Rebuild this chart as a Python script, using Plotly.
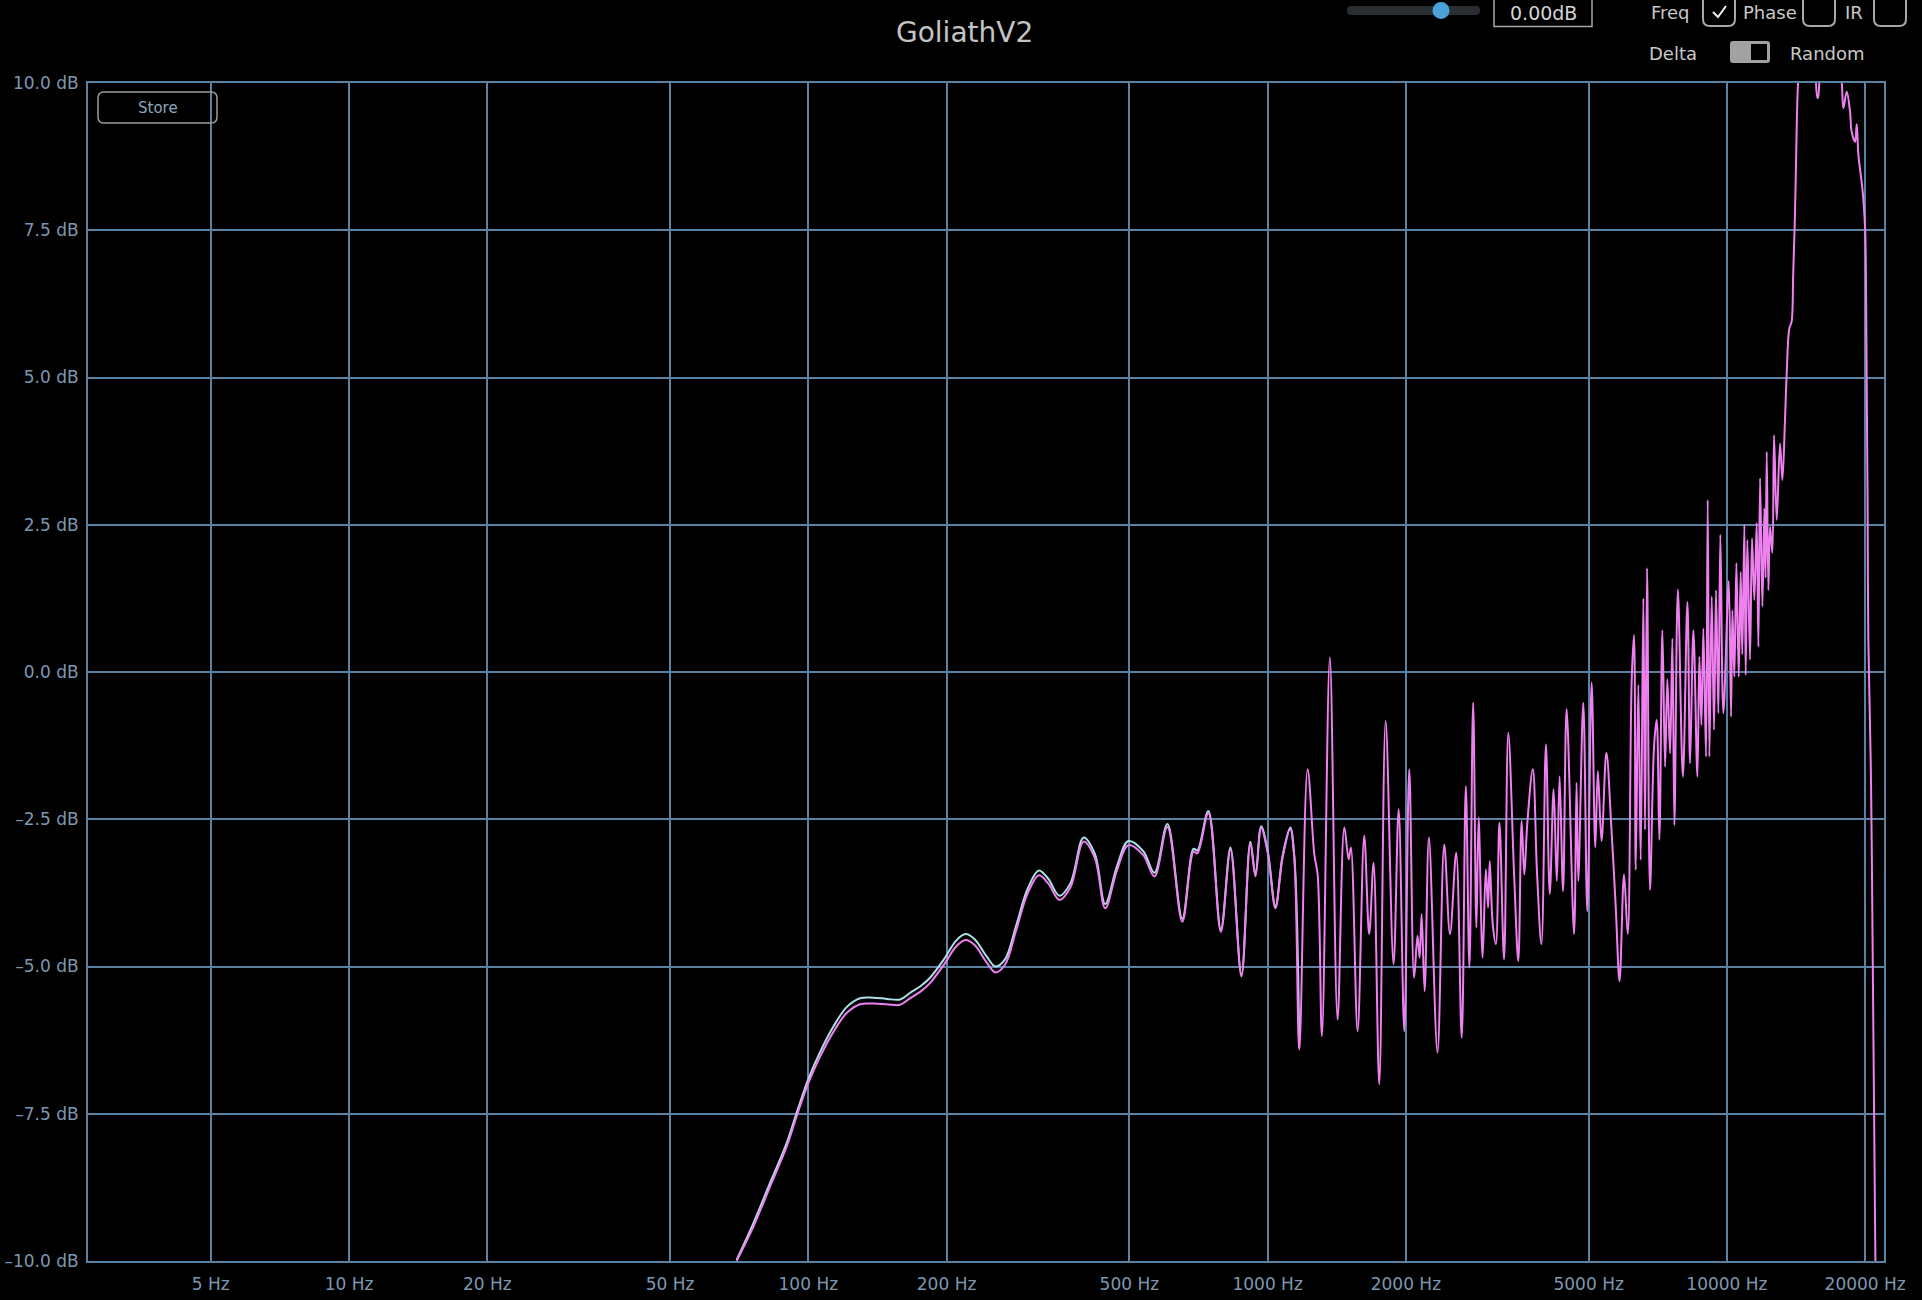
import plotly.graph_objects as go

# ---------------- data ----------------
freq_hz = [
    69.8, 75.9, 82.5, 89.7, 94.8, 100, 106.1, 113.4, 121.2, 129.6,
    138.5, 148.2, 158.4, 166.4, 175.1, 183.6, 198.1, 209.8, 220, 230.5,
    244, 255.6, 268, 283.6, 300.3, 317.6, 332.9, 352.3, 372.4, 397.6,
    420.6, 443, 470.2, 497.5, 536, 567, 605, 652, 690, 703,
    743, 791, 830, 877, 917, 941, 968, 1001, 1040, 1078,
    1120, 1143, 1172, 1222, 1264, 1285, 1313, 1366, 1420, 1469,
    1501, 1518, 1570, 1623, 1664, 1701, 1750, 1807, 1880, 1929,
    1984, 2034, 2084, 2120, 2143, 2164, 2197, 2245, 2343, 2424,
    2495, 2574, 2646, 2701, 2750, 2802, 2848, 2880, 2938, 2986,
    3020, 3045, 3091, 3140, 3197, 3272, 3342, 3443, 3514, 3573,
    3621, 3677, 3779, 3858, 3946, 4036, 4114, 4195, 4262, 4322,
    4398, 4477, 4647, 4705, 4747, 4867, 4966, 5075, 5169, 5236,
    5334, 5465, 5600, 5728, 5837, 5970, 6083, 6204, 6277, 6330,
    6415, 6490, 6578, 6633, 6700, 6800, 6939, 7032, 7127, 7236,
    7334, 7419, 7520, 7608, 7685, 7820, 8020, 8203, 8313, 8453,
    8624, 8710, 8800, 8886, 9005, 9082, 9158, 9266, 9374, 9468,
    9580, 9676, 9823, 10090, 10209, 10278, 10380, 10486, 10610, 10715,
    10800, 10914, 10987, 11079, 11228, 11341, 11475, 11610, 11709, 11808,
    11947, 12066, 12140, 12208, 12310, 12414, 12558, 12664, 12835, 13051,
    13205, 13383, 13490, 13670, 13830, 13940, 14060, 14170, 14290, 14600,
    15200, 15760, 16300, 17100, 17780, 17930, 18230, 18540, 18690, 19010,
    19170, 19330, 19660, 19830, 20000, 20100, 20170, 20240, 20320, 20560,
    20680, 21050, 21080,
]

response_db = [
    -10.0, -9.42, -8.74, -8.06, -7.49, -6.98, -6.53, -6.11, -5.79, -5.64,
    -5.63, -5.64, -5.65, -5.54, -5.43, -5.29, -4.95, -4.66, -4.55, -4.64,
    -4.92, -5.10, -4.97, -4.38, -3.76, -3.45, -3.59, -3.87, -3.65, -2.88,
    -3.16, -4.01, -3.36, -2.94, -3.11, -3.47, -2.63, -4.24, -3.05, -3.08,
    -2.40, -4.41, -3.02, -5.17, -2.91, -3.47, -2.65, -3.08, -4.01, -3.15,
    -2.67, -3.15, -6.41, -1.65, -3.10, -3.44, -6.18, 0.25, -5.90, -2.64,
    -3.18, -2.98, -6.10, -2.78, -4.45, -3.24, -7.00, -0.83, -4.96, -2.33,
    -6.10, -1.65, -5.19, -4.48, -4.85, -4.11, -5.42, -2.81, -6.46, -2.93,
    -4.45, -3.07, -6.21, -1.94, -5.02, -0.52, -4.34, -2.47, -4.85, -3.35,
    -4.00, -3.21, -4.28, -4.62, -2.56, -4.88, -1.03, -3.49, -4.91, -2.53,
    -3.44, -2.56, -1.65, -3.38, -4.62, -1.23, -3.77, -1.99, -3.55, -1.77,
    -3.72, -0.63, -4.45, -1.88, -3.55, -0.52, -4.06, -0.18, -2.98, -1.68,
    -2.87, -1.37, -2.61, -4.00, -5.25, -3.44, -4.45, -0.14, 0.63, -3.36,
    -0.22, -3.19, 1.25, -2.68, 1.76, -3.70, -1.27, -0.81, -2.85, 0.71,
    -1.61, -0.12, -1.38, 0.57, -2.60, 1.40, -1.78, 1.19, -1.55, 0.71,
    -1.78, 0.26, -0.90, 0.74, -1.44, 2.92, -1.44, 1.28, -0.98, 1.39,
    -0.70, 2.33, -0.70, 1.54, -0.76, 1.05, -0.08, 1.85, -0.08, 1.70,
    0.30, 2.50, -0.05, 2.24, 0.21, 2.27, 1.22, 2.53, 0.43, 3.29,
    1.11, 2.78, 1.60, 3.74, 1.39, 2.47, 2.02, 4.02, 2.58, 3.88,
    3.26, 4.31, 5.04, 5.83, 5.95, 6.74, 7.70, 9.00, 10.02, 10.8,
    11.0, 9.74, 10.9, 11.1, 10.02, 9.57, 9.85, 9.51, 9.17, 9.00,
    9.30, 8.78, 8.30, 8.00, 7.50, 6.20, 4.48, 3.00, 0.53, -1.50,
    -3.16, -10.0, -10.3,
]

# stored (light blue) curve, on the first frequencies of freq_hz
stored_db = [
    -9.98, -9.36, -8.68, -8.00, -7.43, -6.91, -6.45, -6.02, -5.69, -5.54,
    -5.53, -5.55, -5.56, -5.45, -5.34, -5.20, -4.86, -4.56, -4.45, -4.54,
    -4.82, -5.00, -4.88, -4.30, -3.68, -3.37, -3.51, -3.80, -3.58, -2.81,
    -3.09, -3.94, -3.29, -2.87, -3.04, -3.41, -2.58, -4.19, -3.00, -3.03,
    -2.36, -4.37, -2.98, -5.14, -2.88, -3.44, -2.62, -3.05, -3.98, -3.12,
    -2.64, -3.12, -6.38,
]

x_tick_hz = [5, 10, 20, 50, 100, 200, 500, 1000, 2000, 5000, 10000, 20000]
x_tick_text = ["5 Hz", "10 Hz", "20 Hz", "50 Hz", "100 Hz", "200 Hz", "500 Hz",
               "1000 Hz", "2000 Hz", "5000 Hz", "10000 Hz", "20000 Hz"]
y_tick_db = [-10, -7.5, -5, -2.5, 0, 2.5, 5, 7.5, 10]
y_tick_text = ["\u201310.0 dB", "\u20137.5 dB", "\u20135.0 dB", "\u20132.5 dB", "0.0 dB",
               "2.5 dB", "5.0 dB", "7.5 dB", "10.0 dB"]

title_text = "GoliathV2"

# ---------------- layout geometry ----------------
W, H = 1922, 1300
ML, MR, MT, MB = 88, 38, 83, 39
PW, PH = W - ML - MR, H - MT - MB

GRID = "#5a82a3"
TICK = "#7e97b0"
PINK = "#ef80ef"
CYAN = "#aee0e8"
TEXT = "#c8c8c8"
FONT = "DejaVu Sans"


def pxx(x):
    return (x - ML) / PW


def pxy(y):
    return (H - MB - y) / PH


def rrect_path(x0, y0, x1, y1, r):
    def p(x, y):
        return f"{pxx(x):.6f},{pxy(y):.6f}"
    pts = [
        "M" + p(x0 + r, y0),
        "L" + p(x1 - r, y0),
        "Q" + p(x1, y0) + " " + p(x1, y0 + r),
        "L" + p(x1, y1 - r),
        "Q" + p(x1, y1) + " " + p(x1 - r, y1),
        "L" + p(x0 + r, y1),
        "Q" + p(x0, y1) + " " + p(x0, y1 - r),
        "L" + p(x0, y0 + r),
        "Q" + p(x0, y0) + " " + p(x0 + r, y0),
        "Z",
    ]
    return " ".join(pts)


fig = go.Figure()

fig.add_trace(go.Scatter(
    x=freq_hz[:len(stored_db)], y=stored_db, mode="lines",
    line=dict(color=CYAN, width=2, shape="spline", smoothing=1.0),
    hoverinfo="skip", showlegend=False,
))
fig.add_trace(go.Scatter(
    x=freq_hz, y=response_db, mode="lines",
    line=dict(color=PINK, width=2, shape="spline", smoothing=1.0),
    hoverinfo="skip", showlegend=False,
))

shapes = []
annotations = []

# Store button
shapes.append(dict(type="path", xref="paper", yref="paper",
                   path=rrect_path(98, 92, 217, 123, 6),
                   line=dict(color="#9c9c9c", width=1.5), layer="above"))
annotations.append(dict(text="Store", x=pxx(157.5), y=pxy(108), xref="paper", yref="paper",
                        showarrow=False, xanchor="center", yanchor="middle",
                        font=dict(family=FONT, size=15, color="#8fa6be")))

# title
annotations.append(dict(text=title_text, x=pxx(964), y=pxy(33), xref="paper", yref="paper",
                        showarrow=False, xanchor="center", yanchor="middle",
                        font=dict(family=FONT, size=28, color="#c4c4c4")))

# slider
shapes.append(dict(type="path", xref="paper", yref="paper",
                   path=rrect_path(1347, 6, 1480, 15, 4.5),
                   fillcolor="#2a2e33", line=dict(width=0), layer="above"))
shapes.append(dict(type="circle", xref="paper", yref="paper",
                   x0=pxx(1432.5), x1=pxx(1449.5), y0=pxy(19), y1=pxy(2),
                   fillcolor="#4aa2d6", line=dict(width=0), layer="above"))
# value box
shapes.append(dict(type="rect", xref="paper", yref="paper",
                   x0=pxx(1494), x1=pxx(1592), y0=pxy(26.5), y1=pxy(-2),
                   line=dict(color="#a8a8a8", width=1.5), layer="above"))
annotations.append(dict(text="0.00dB", x=pxx(1543), y=pxy(12.5), xref="paper", yref="paper",
                        showarrow=False, xanchor="center", yanchor="middle",
                        font=dict(family=FONT, size=19, color="#d4d4d4")))

# checkbox row
for label, cx in [("Freq", 1670), ("Phase", 1770), ("IR", 1854)]:
    annotations.append(dict(text=label, x=pxx(cx), y=pxy(12), xref="paper", yref="paper",
                            showarrow=False, xanchor="center", yanchor="middle",
                            font=dict(family=FONT, size=18, color=TEXT)))
for x0 in [1703, 1803, 1874]:
    shapes.append(dict(type="path", xref="paper", yref="paper",
                       path=rrect_path(x0, -6, x0 + 32, 26, 7),
                       line=dict(color="#a8a8a8", width=2), layer="above"))
# check mark
shapes.append(dict(type="path", xref="paper", yref="paper",
                   path=f"M{pxx(1713):.6f},{pxy(12):.6f} L{pxx(1718):.6f},{pxy(17):.6f} L{pxx(1726):.6f},{pxy(6):.6f}",
                   line=dict(color="#f0f0f0", width=2), layer="above"))

# second row
annotations.append(dict(text="Delta", x=pxx(1673), y=pxy(53), xref="paper", yref="paper",
                        showarrow=False, xanchor="center", yanchor="middle",
                        font=dict(family=FONT, size=18, color=TEXT)))
annotations.append(dict(text="Random", x=pxx(1827), y=pxy(53), xref="paper", yref="paper",
                        showarrow=False, xanchor="center", yanchor="middle",
                        font=dict(family=FONT, size=18, color=TEXT)))
shapes.append(dict(type="path", xref="paper", yref="paper",
                   path=rrect_path(1730, 41, 1770, 63, 3),
                   fillcolor="#a2a2a2", line=dict(width=0), layer="above"))
shapes.append(dict(type="rect", xref="paper", yref="paper",
                   x0=pxx(1751), x1=pxx(1767), y0=pxy(60), y1=pxy(44),
                   fillcolor="#000000", line=dict(width=0), layer="above"))

fig.update_layout(
    width=W, height=H,
    margin=dict(l=ML, r=MR, t=MT, b=MB, pad=0, autoexpand=False),
    paper_bgcolor="#000000", plot_bgcolor="#000000",
    font=dict(family=FONT, size=17, color=TICK),
    showlegend=False,
    shapes=shapes, annotations=annotations,
    xaxis=dict(
        type="log", range=[0.4317, 4.342], automargin=False,
        tickmode="array", tickvals=x_tick_hz, ticktext=x_tick_text,
        showgrid=True, gridcolor=GRID, gridwidth=1.8,
        showline=True, linecolor=GRID, linewidth=1.8, mirror=True,
        ticks="outside", ticklen=7, tickcolor="rgba(0,0,0,0)",
        tickfont=dict(family=FONT, size=17, color=TICK),
        zeroline=False, fixedrange=True,
    ),
    yaxis=dict(
        range=[-10, 10], automargin=False,
        tickmode="array", tickvals=y_tick_db, ticktext=y_tick_text,
        showgrid=True, gridcolor=GRID, gridwidth=1.8,
        showline=True, linecolor=GRID, linewidth=1.8, mirror=True,
        ticks="outside", ticklen=4, tickcolor="rgba(0,0,0,0)",
        tickfont=dict(family=FONT, size=17, color=TICK),
        zeroline=False, fixedrange=True,
    ),
)

fig.write_html("out.html", config=dict(displayModeBar=False),
               post_script="document.body.style.margin='0';document.body.style.overflow='hidden';")
